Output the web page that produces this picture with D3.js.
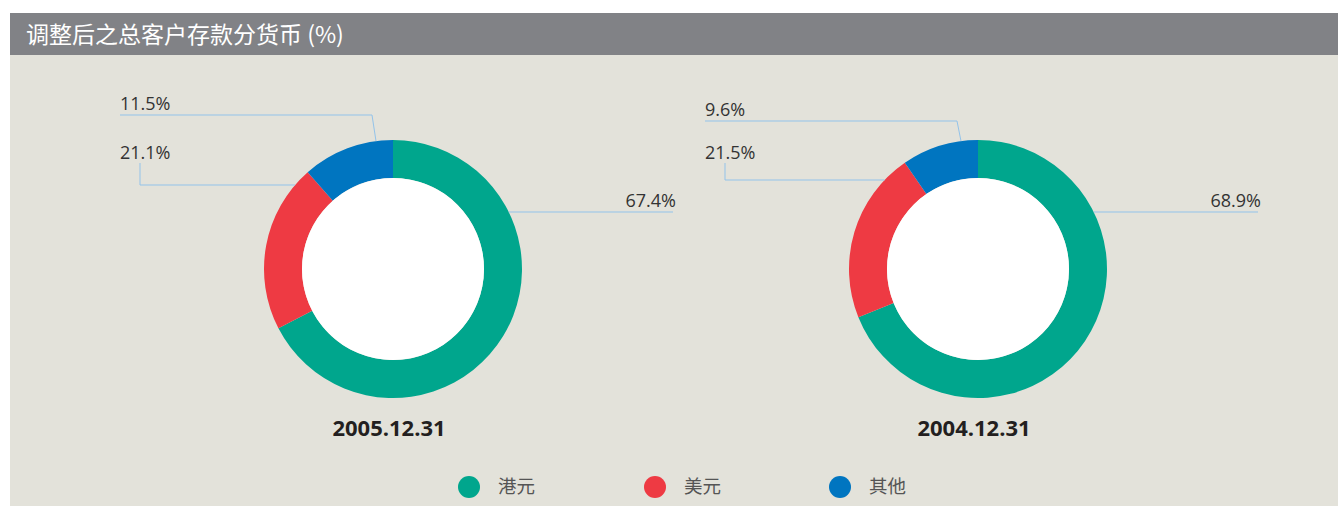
<!DOCTYPE html>
<html>
<head>
<meta charset="utf-8">
<script src="https://cdn.jsdelivr.net/npm/d3@7"></script>
<style>
  body { margin: 0; background: #fff; }
  svg { display: block; }
</style>
</head>
<body>
<div id="chart"></div>
<script>
// data
const currencies = ["港元", "美元", "其他"];
const dates = ["2005.12.31", "2004.12.31"];
const values2005 = [67.4, 21.1, 11.5];
const values2004 = [68.9, 21.5, 9.6];
const title = "调整后之总客户存款分货币 (%)";

const colors = ["#00a68d", "#ee3a43", "#0075c0"];
const lineColor = "#93c3ea";

const width = 1338, height = 506;
const outerR = 129, innerR = 91;
const centers = [393, 978];
const cy = 269;

// leader layout per donut (offsets from centre)
const redLineY = [-84, -89];
const blueLineY = [-154, -148];

const svg = d3.select('#chart').append('svg')
    .attr('width', width)
    .attr('height', height);

svg.append('rect')
    .attr('x', 10).attr('y', 55)
    .attr('width', width - 10).attr('height', height - 55)
    .attr('fill', '#e3e2da');

svg.append('rect')
    .attr('x', 10).attr('y', 13)
    .attr('width', width - 10).attr('height', 42)
    .attr('fill', '#818286');

svg.append('text')
    .attr('x', 26).attr('y', 43)
    .attr('fill', '#fff')
    .attr('font-family', '"Noto Sans CJK SC", "Noto Sans", sans-serif')
    .attr('font-size', 23)
    .text(title);

const pie = d3.pie().sort(null).value(d => d);
const arc = d3.arc().innerRadius(innerR).outerRadius(outerR);
const font = '"Open Sans", "Noto Sans", sans-serif';

[values2005, values2004].forEach((vals, k) => {
    const cx = centers[k];
    const g = svg.append('g').attr('transform', `translate(${cx},${cy})`);

    g.selectAll('path')
        .data(pie(vals))
        .enter()
        .append('path')
        .attr('d', arc)
        .attr('fill', (d, i) => colors[i]);

    g.append('circle').attr('r', innerR).attr('fill', '#fff');

    const labelX = -273;

    // green (港元) - right side
    const gy = -57;
    const gx = Math.sqrt(outerR * outerR - gy * gy);
    g.append('path')
        .attr('d', d3.line()([[gx, gy], [280, gy]]))
        .attr('stroke', lineColor).attr('fill', 'none');
    g.append('text')
        .attr('x', 283).attr('y', gy - 5)
        .attr('text-anchor', 'end')
        .text(vals[0].toFixed(1) + '%');

    // red (美元)
    const ry = redLineY[k];
    const rx = -Math.sqrt(outerR * outerR - ry * ry);
    g.append('path')
        .attr('d', d3.line()([[rx, ry], [labelX + 20, ry], [labelX + 20, -106]]))
        .attr('stroke', lineColor).attr('fill', 'none');
    g.append('text')
        .attr('x', labelX).attr('y', -110)
        .text(vals[1].toFixed(1) + '%');

    // blue (其他)
    const by = blueLineY[k];
    const bx = -17;
    const bay = -Math.sqrt(outerR * outerR - bx * bx);
    g.append('path')
        .attr('d', d3.line()([[bx, bay], [bx - 4, by], [labelX, by]]))
        .attr('stroke', lineColor).attr('fill', 'none');
    g.append('text')
        .attr('x', labelX).attr('y', by - 5)
        .text(vals[2].toFixed(1) + '%');

    g.selectAll('text')
        .attr('font-family', font)
        .attr('font-size', 18)
        .attr('fill', '#333');

    g.append('text')
        .attr('x', -4).attr('y', 167)
        .attr('text-anchor', 'middle')
        .attr('font-family', font)
        .attr('font-size', 22)
        .attr('font-weight', 'bold')
        .attr('fill', '#231f20')
        .text(dates[k]);
});

// legend
const legendX = [469, 655, 840];
const legend = svg.selectAll('.legend')
    .data(currencies)
    .enter()
    .append('g')
    .attr('transform', (d, i) => `translate(${legendX[i]},487)`);

legend.append('circle')
    .attr('r', 11)
    .attr('fill', (d, i) => colors[i]);

legend.append('text')
    .attr('x', 29).attr('y', 6)
    .attr('font-family', '"Noto Sans CJK SC", sans-serif')
    .attr('font-size', 18.5)
    .attr('fill', '#555')
    .text(d => d);
</script>
</body>
</html>
